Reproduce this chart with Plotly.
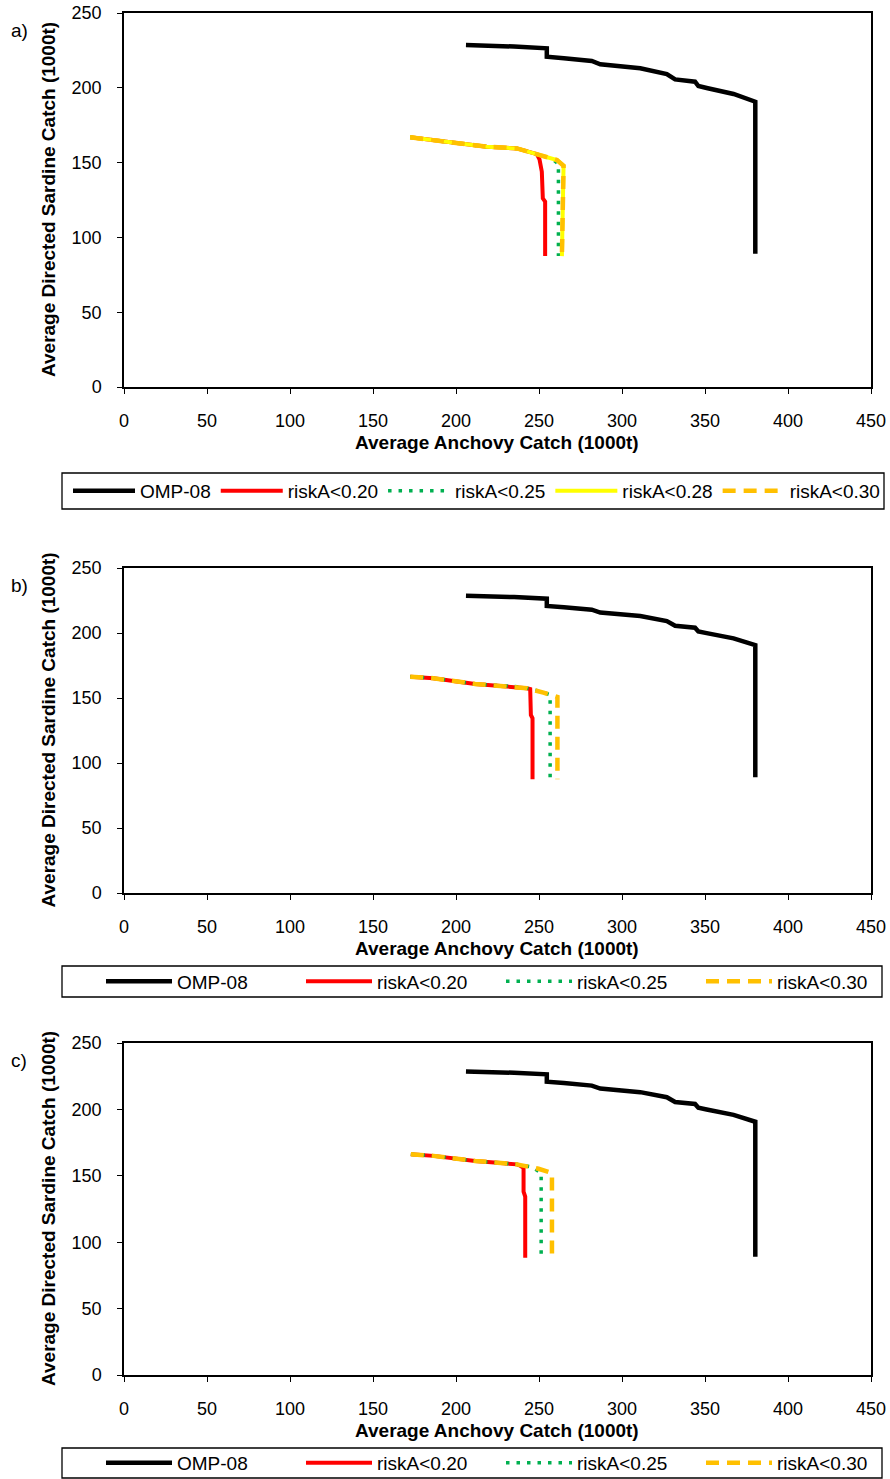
import plotly.graph_objects as go

# ---------------- data ----------------
# OMP-08 trade-off curve (same in all three panels)
omp_x = [206, 220, 235, 254.7, 254.7, 265, 281.8, 286.9, 300, 311, 327, 332, 344, 346, 351, 367.2, 380.3, 380.3]
omp_y = [228.6, 228.3, 227.6, 226.4, 220.8, 219.8, 217.9, 215.7, 214.6, 213.0, 209.2, 205.6, 204.1, 201.2, 199.9, 195.9, 190.7, 89.0]

# panel a)
a_red_x = [172.4, 196.5, 218.6, 236.7, 248.7, 250.3, 251.7, 252.3, 253.7, 253.7]
a_red_y = [166.9, 163.5, 160.6, 159.5, 155.7, 152.1, 143.9, 126.1, 123.9, 87.5]
a_green_x = [172.4, 196.5, 218.6, 236.7, 248.7, 258.0, 261.7, 261.7]
a_green_y = [166.9, 163.5, 160.6, 159.5, 155.7, 152.5, 149.0, 87.5]
a_yellow_x = [172.4, 196.5, 218.6, 236.7, 248.7, 260.8, 264.8, 263.8]
a_yellow_y = [166.9, 163.5, 160.6, 159.5, 155.7, 151.7, 147.9, 87.5]
a_orange_x = [172.4, 196.5, 218.6, 236.7, 248.7, 260.8, 264.8, 263.8]
a_orange_y = [166.9, 163.5, 160.6, 159.5, 155.7, 151.7, 147.9, 87.5]

# panel b)
b_red_x = [172.4, 186.4, 211.5, 236.7, 242.7, 244.7, 245.1, 246.1, 246.1]
b_red_y = [166.4, 165.2, 160.8, 158.7, 157.5, 156.9, 136.9, 134.4, 87.5]
b_green_x = [172.4, 186.4, 211.5, 236.7, 242.7, 249.7, 256.7, 256.7]
b_green_y = [166.4, 165.2, 160.8, 158.7, 157.5, 155.4, 152.5, 87.9]
b_orange_x = [172.4, 186.4, 211.5, 236.7, 242.7, 252.7, 259.7, 261.1, 261.1]
b_orange_y = [166.4, 165.2, 160.8, 158.7, 157.5, 154.1, 151.8, 150.8, 87.5]

# panel c)
c_red_x = [172.8, 186.4, 211.5, 236.7, 238.7, 240.7, 240.7, 241.7, 241.7]
c_red_y = [166.3, 165.0, 161.2, 158.6, 157.6, 156.0, 138.1, 134.3, 88.3]
c_green_x = [172.8, 186.4, 211.5, 236.7, 245.7, 251.3, 251.3]
c_green_y = [166.3, 165.0, 161.2, 158.6, 156.6, 152.2, 88.3]
c_orange_x = [172.8, 186.4, 211.5, 236.7, 249.7, 256.7, 257.8, 257.8]
c_orange_y = [166.3, 165.0, 161.2, 158.6, 155.3, 153.0, 152.0, 88.3]

x_ticks = [0, 50, 100, 150, 200, 250, 300, 350, 400, 450]
y_ticks = [0, 50, 100, 150, 200, 250]

# ---------------- layout helpers ----------------
W, H = 890, 1479
FONT = "Liberation Sans, Arial, sans-serif"


def py(px):
    return 1 - px / H


def px_x(px):
    return px / W


panels = [
    dict(top=13, bot=387, lab="a)", box=(62, 473, 884, 509), xt=443, legx=68),
    dict(top=568, bot=893, lab="b)", box=(62, 966, 882, 997), xt=948, legx=101),
    dict(top=1043, bot=1375, lab="c)", box=(62, 1448, 882, 1478), xt=1430, legx=101),
]

STYLE = {
    "OMP-08": dict(color="black", width=4.5, dash="solid"),
    "riskA<0.20": dict(color="#FF0000", width=4, dash="solid"),
    "riskA<0.25": dict(color="#00B050", width=3.5, dash="3.5px,7px"),
    "riskA<0.28": dict(color="#FFFF00", width=4, dash="solid"),
    "riskA<0.30": dict(color="#FFC000", width=4.5, dash="13px,8px"),
}

series = [
    [("OMP-08", omp_x, omp_y), ("riskA<0.20", a_red_x, a_red_y), ("riskA<0.25", a_green_x, a_green_y),
     ("riskA<0.28", a_yellow_x, a_yellow_y), ("riskA<0.30", a_orange_x, a_orange_y)],
    [("OMP-08", omp_x, omp_y), ("riskA<0.20", b_red_x, b_red_y), ("riskA<0.25", b_green_x, b_green_y),
     ("riskA<0.30", b_orange_x, b_orange_y)],
    [("OMP-08", omp_x, omp_y), ("riskA<0.20", c_red_x, c_red_y), ("riskA<0.25", c_green_x, c_green_y),
     ("riskA<0.30", c_orange_x, c_orange_y)],
]

fig = go.Figure()
layout = dict(
    width=W, height=H, margin=dict(l=0, r=0, t=0, b=0, autoexpand=False),
    paper_bgcolor="white", plot_bgcolor="white",
    font=dict(family=FONT, size=18, color="black"),
    showlegend=True,
)
annotations = []
shapes = []

for i, p in enumerate(panels):
    n = "" if i == 0 else str(i + 1)
    xa, ya = "x" + n, "y" + n
    legname = "legend" + n
    for name, xs, ys in series[i]:
        st = STYLE[name]
        fig.add_trace(go.Scatter(
            x=xs, y=ys, mode="lines", name=name,
            line=dict(color=st["color"], width=st["width"], dash=st["dash"]),
            xaxis=xa, yaxis=ya, legend=legname, hoverinfo="skip",
        ))
    axis_common = dict(
        showline=True, linecolor="black", linewidth=1.5, mirror=True,
        ticks="outside", ticklen=5, tickwidth=1.2, tickcolor="black",
        showgrid=False, zeroline=False,
        tickfont=dict(family=FONT, size=18, color="black"),
    )
    layout["xaxis" + n] = dict(
        axis_common, domain=[px_x(124), px_x(871)], range=[0, 450],
        tickvals=x_ticks, anchor=ya, ticklabelstandoff=12,
    )
    layout["yaxis" + n] = dict(
        axis_common, domain=[py(p["bot"]), py(p["top"])], range=[0, 250],
        tickvals=y_ticks, anchor=xa, ticklabelstandoff=12,
    )
    x0, y0, x1, y1 = p["box"]
    shapes.append(dict(
        type="rect", xref="paper", yref="paper",
        x0=px_x(x0), x1=px_x(x1), y0=py(y1), y1=py(y0),
        line=dict(color="black", width=1.3), fillcolor="white", layer="below",
    ))
    n_items = len(series[i])
    leg = dict(
        x=px_x(p["legx"]), xanchor="left", y=py((y0 + y1) / 2), yanchor="middle",
        orientation="h", bgcolor="rgba(0,0,0,0)", borderwidth=0,
        font=dict(family=FONT, size=19, color="black"),
        traceorder="normal", itemclick=False, itemdoubleclick=False,
    )
    if n_items == 5:
        leg["itemwidth"] = 62
    else:
        leg["itemwidth"] = 66
        leg["entrywidth"] = 119
    layout[legname] = leg
    # panel label
    annotations.append(dict(
        text=p["lab"], x=px_x(19), y=py(p["top"] + 17), xref="paper", yref="paper",
        xanchor="center", yanchor="middle",
        showarrow=False, font=dict(family=FONT, size=19),
    ))
    # y axis title
    annotations.append(dict(
        text="<b>Average Directed Sardine Catch (1000t)</b>", textangle=-90,
        x=px_x(48), y=py((p["top"] + p["bot"]) / 2), xref="paper", yref="paper",
        xanchor="center", yanchor="middle",
        showarrow=False, font=dict(family=FONT, size=19),
    ))
    # x axis title
    annotations.append(dict(
        text="<b>Average Anchovy Catch (1000t)</b>",
        x=px_x(497), y=py(p["xt"]), xref="paper", yref="paper",
        xanchor="center", yanchor="middle",
        showarrow=False, font=dict(family=FONT, size=19),
    ))

layout["annotations"] = annotations
layout["shapes"] = shapes
fig.update_layout(**layout)
fig.write_html(
    "out.html",
    config={"displayModeBar": False},
    post_script="document.body.style.margin='0';document.body.style.padding='0';"
                "document.documentElement.style.overflow='hidden';",
)
